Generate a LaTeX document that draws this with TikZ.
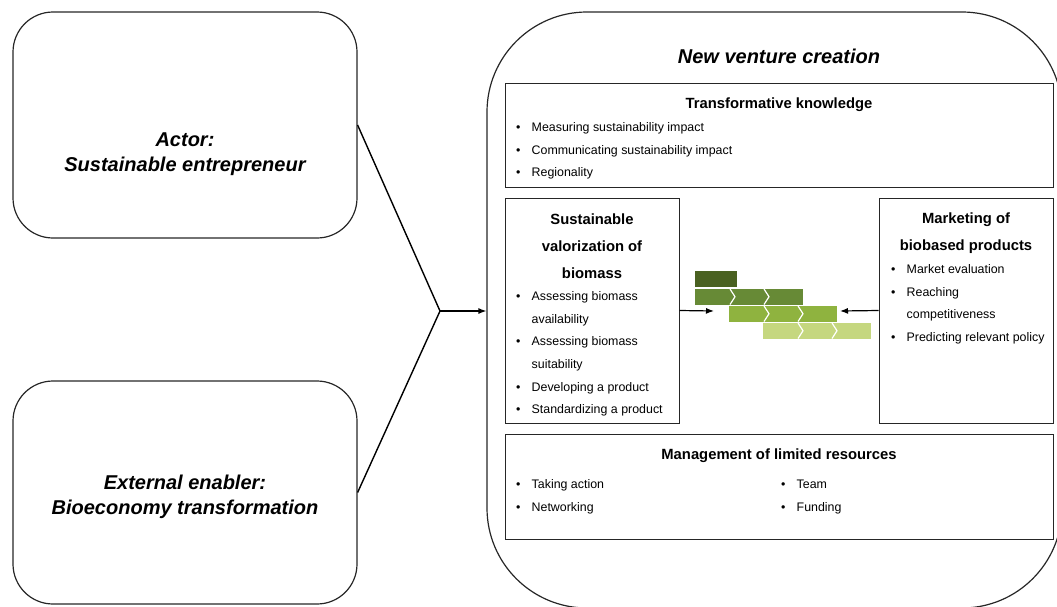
\documentclass[tikz,border=0pt]{standalone}
\usepackage{fontspec}
\setmainfont{Liberation Sans}
\usetikzlibrary{arrows.meta}
\usetikzlibrary{positioning}

\definecolor{barA}{HTML}{4A6121}
\definecolor{barB}{HTML}{678A36}
\definecolor{barC}{HTML}{8FB33F}
\definecolor{barD}{HTML}{C5D77F}

\newcommand{\bul}{\makebox[15.5pt][l]{\textbullet}}
\newcommand{\nobul}{\hspace*{15.5pt}}

\begin{document}
\begin{tikzpicture}[x=1pt,y=-1pt,
    roundbox/.style={draw=black!85,line width=1.2pt,rounded corners=40pt,minimum width=344pt},
    plainbox/.style={draw=black!85,line width=1pt},
    title/.style={font=\fontsize{20}{25}\selectfont\bfseries\itshape,align=center,yshift=-2pt},
    head/.style={font=\fontsize{14.8}{27}\selectfont\bfseries,align=center,yshift=-2pt},
    item/.style={font=\fontsize{12.4}{15}\selectfont,anchor=mid west,inner sep=0pt,yshift=-2pt},
    arr/.style={-{Latex[length=8pt,width=6pt]},line width=1.2pt}]
    \path[use as bounding box,clip] (0,0) rectangle (1057,606);

    % left side
    \node[roundbox,minimum height=226pt] (actor) at (185,125) {};
    \node[title] (actortxt) at (185,152.5) {Actor:\\Sustainable entrepreneur};
    \node[roundbox,minimum height=223pt] (enabler) at (185,492.5) {};
    \node[title] (enablertxt) at (185,494.5) {External enabler:\\Bioeconomy transformation};

    % outer frame
    \node[draw=black!85,line width=1.2pt,rounded corners=100pt,minimum width=575pt,minimum height=596pt] (venture) at (774.5,310) {};
    \node[title] (venturetxt) at (779,54) {New venture creation};

    \coordinate (join) at (440,311);
    \draw[line width=1.4pt] (actor.east) -- (join) -- (enabler.east);
    \draw[arr] (join) -- (join -| venture.west);

    % inner boxes
    \node[plainbox,minimum width=548pt,minimum height=104pt] (know) at (779,135) {};
    \node[plainbox,minimum width=174pt,minimum height=225pt] (valor) at (592,310.5) {};
    \node[plainbox,minimum width=174pt,minimum height=225pt] (market) at (966,310.5) {};
    \node[plainbox,minimum width=548pt,minimum height=105pt] (manage) at (779,486.5) {};

    \node[head] (knowhd) at (779,103) {Transformative knowledge};
    \foreach \t [count=\i] in {Measuring sustainability impact,Communicating sustainability impact,Regionality}
      \node[item] (know\i) at (516,104.5+22.5*\i) {\bul\t};

    \node[head] (valorhd) at (592,244) {Sustainable\\valorization of\\biomass};
    \foreach \t/\b [count=\i] in {Assessing biomass/1,availability/0,Assessing biomass/1,suitability/0,Developing a product/1,Standardizing a product/1}
      \node[item] (valor\i) at (516,273.5+22.6*\i) {\ifnum\b=1 \bul\else\nobul\fi\t};

    \node[head] (markethd) at (966,231) {Marketing of\\biobased products};
    \foreach \t/\b [count=\i] in {Market evaluation/1,Reaching/1,competitiveness/0,Predicting relevant policy/1}
      \node[item] (market\i) at (891,246.5+22.6*\i) {\ifnum\b=1 \bul\else\nobul\fi\t};

    \node[head] (managehd) at (779,454) {Management of limited resources};
    \node[item] (manage1) at (516,484) {\bul Taking action};
    \node[item] (manage2) at (516,507) {\bul Networking};
    \node[item] (manage3) at (781,484) {\bul Team};
    \node[item] (manage4) at (781,507) {\bul Funding};

    % bars
    \fill[barA] (695,271) rectangle (737,287);
    \foreach \x/\y/\c in {695/289/barB,729/306/barC,763/323/barD}{
      \fill[\c] (\x,\y) rectangle ++(108,15.5);
      \foreach \k in {1,2}
        \draw[white,line width=1.2pt] (\x+34*\k+1,\y) -- ++(5,7.75) -- ++(-5,7.75);
    }
    \coordinate (barleft) at (714,311);
    \coordinate (barright) at (840,311);
    \draw[arr] (valor.east) -- (barleft);
    \draw[arr] (market.west) -- (barright);
\end{tikzpicture}
\end{document}
